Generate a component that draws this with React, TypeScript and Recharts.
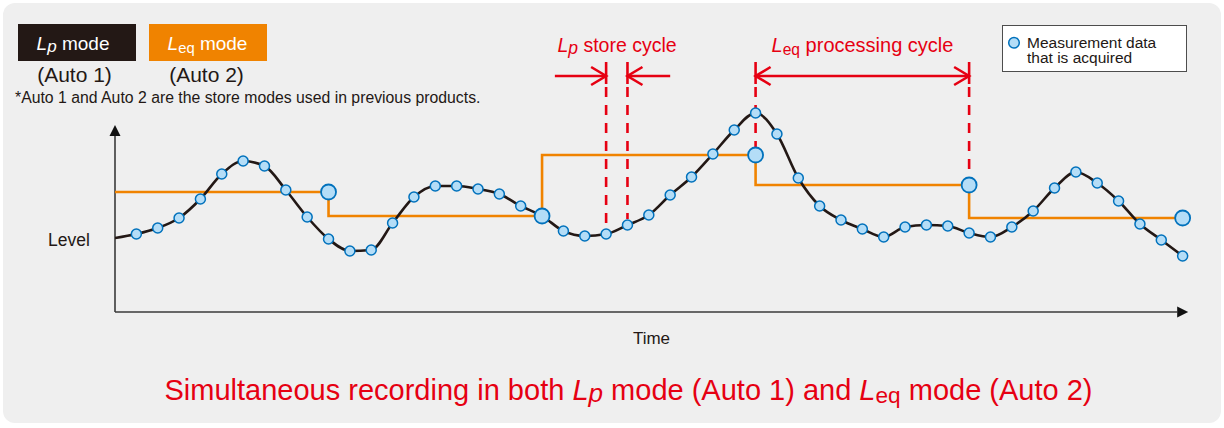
import React from 'react'
import { ComposedChart, Line, XAxis, YAxis, ReferenceLine } from 'recharts'

// Sound level, one value per measurement tick (time index 0..50)
const LEVEL = [
  74, 78, 84, 94, 113, 138, 151, 146, 122, 95,
  73, 61, 62, 89, 115, 126, 126, 123, 118, 106,
  96, 81, 76, 78, 87, 97, 117, 135, 158, 182,
  199, 178, 134, 106, 92, 83, 75, 85, 87, 86,
  79, 75, 85, 101, 124, 140, 129, 111, 88, 72,
  56,
]

// Leq step line (Auto 2): level held from each tick until the next one
const LEQ_AT = [0, 10, 20, 30, 40, 50]
const LEQ_LEVEL = [120, 96, 157, 127, 94, 94]

// values stored at the end of each Leq processing cycle
const STORED_AT = [10, 20, 30, 40, 50]
const STORED_LEVEL = [120, 96, 157, 127, 94]

const LP_CYCLE = [23, 24]
const LEQ_CYCLE = [30, 40]

const W = 1224
const H = 428
const INK = '#231815'
const ORANGE = '#f08300'
const RED = '#e60012'
const DOT_FILL = '#b4ddf7'
const DOT_STROKE = '#0071bc'
const FONT = '"Liberation Sans", Arial, Helvetica, sans-serif'

const X_MAX = 51
const Y_MAX = 292
const CUE_TOP = 250 // top of the red cycle markers
const CUE_ARROW = 236
const CUE_TICK = 228

const rows = LEVEL.map((v, t) => {
  const li = LEQ_AT.indexOf(t)
  const si = STORED_AT.indexOf(t)
  return {
    t,
    level: v,
    leq: li >= 0 ? LEQ_LEVEL[li] : null,
    stored: si >= 0 ? STORED_LEVEL[si] : null,
  }
})

const smallDot = (p: any) =>
  p.index === 0 || p.cy == null ? (
    <g key={`s${p.index}`} />
  ) : (
    <circle key={`s${p.index}`} cx={p.cx} cy={p.cy} r={5} fill={DOT_FILL} stroke={DOT_STROKE} strokeWidth={1.5} />
  )

const bigDot = (p: any) =>
  p.value == null || p.cy == null ? (
    <g key={`b${p.index}`} />
  ) : (
    <circle key={`b${p.index}`} cx={p.cx} cy={p.cy} r={7.5} fill={DOT_FILL} stroke={DOT_STROKE} strokeWidth={1.8} />
  )

// axis line with a filled triangle at its far end
const axisArrow = (p: any) => {
  const { x1, y1, x2, y2 } = p
  const len = Math.hypot(x2 - x1, y2 - y1) || 1
  const ux = (x2 - x1) / len
  const uy = (y2 - y1) / len
  const bx = x2 - ux * 11
  const by = y2 - uy * 11
  const nx = -uy * 5.5
  const ny = ux * 5.5
  return (
    <g>
      <line x1={x1} y1={y1} x2={bx} y2={by} stroke="#3a3a3a" strokeWidth={1.6} />
      <polygon points={`${x2},${y2} ${bx + nx},${by + ny} ${bx - nx},${by - ny}`} fill="#111" />
    </g>
  )
}

// red dimension line with open chevron heads
const dimArrow = (start: boolean, end: boolean) => (p: any) => {
  const { x1, y1, x2, y2 } = p
  const d = Math.sign(x2 - x1) || 1
  const head = (x: number, y: number, dir: number) =>
    `M${x - dir * 15},${y - 9} L${x},${y} L${x - dir * 15},${y + 9} `
  const path = (end ? head(x2, y2, d) : '') + (start ? head(x1, y1, -d) : '')
  return (
    <g>
      <line x1={x1} y1={y1} x2={x2} y2={y2} stroke={RED} strokeWidth={2.6} />
      <path d={path} fill="none" stroke={RED} strokeWidth={2.6} />
    </g>
  )
}

// where each red cue line stops: just above the dot it points at
const cueEnd = (t: number) => {
  const si = STORED_AT.indexOf(t)
  return (si >= 0 ? STORED_LEVEL[si] : LEVEL[t]) + 6
}

const Lp = () => (
  <>
    <tspan fontStyle="italic">L</tspan>
    <tspan fontStyle="italic" fontSize="0.9em" dy={2}>p</tspan>
    <tspan dy={-2}> </tspan>
  </>
)

const Leq = () => (
  <>
    <tspan fontStyle="italic">L</tspan>
    <tspan fontSize="0.78em" dy={3}>eq</tspan>
    <tspan dy={-3}> </tspan>
  </>
)

export default function App() {
  return (
    <div style={{ position: 'relative', width: W, height: H, background: '#fff', fontFamily: FONT }}>
      <style>{'body{margin:0}'}</style>
      <div
        style={{
          position: 'absolute',
          left: 3,
          top: 3,
          width: 1218,
          height: 420,
          borderRadius: 12,
          background: '#efefef',
        }}
      />
      <div style={{ position: 'absolute', left: 0, top: 0 }}>
        <ComposedChart width={W} height={H} data={rows} margin={{ top: 20, right: 20, bottom: 116, left: 115 }}>
          <XAxis type="number" dataKey="t" domain={[0, X_MAX]} hide allowDataOverflow />
          <YAxis type="number" domain={[0, Y_MAX]} hide allowDataOverflow />

          <ReferenceLine segment={[{ x: 0, y: 0 }, { x: 0, y: 187 }]} shape={axisArrow} ifOverflow="visible" />
          <ReferenceLine segment={[{ x: 0, y: 0 }, { x: 50.26, y: 0 }]} shape={axisArrow} ifOverflow="visible" />

          <Line
            type="stepAfter"
            dataKey="leq"
            stroke={ORANGE}
            strokeWidth={2.6}
            dot={false}
            activeDot={false}
            connectNulls
            isAnimationActive={false}
          />
          <Line
            type="monotone"
            dataKey="level"
            stroke={INK}
            strokeWidth={2.6}
            dot={smallDot}
            activeDot={false}
            isAnimationActive={false}
          />

          {[...LP_CYCLE, ...LEQ_CYCLE].map((t) => (
            <ReferenceLine
              key={`tick${t}`}
              segment={[{ x: t, y: CUE_TOP }, { x: t, y: CUE_TICK }]}
              stroke={RED}
              strokeWidth={2.6}
              ifOverflow="visible"
            />
          ))}
          {[...LP_CYCLE, ...LEQ_CYCLE].map((t) => (
            <ReferenceLine
              key={`cue${t}`}
              segment={[{ x: t, y: CUE_TICK - 3 }, { x: t, y: cueEnd(t) }]}
              stroke={RED}
              strokeWidth={2.6}
              strokeDasharray="10 8"
              ifOverflow="visible"
            />
          ))}

          <ReferenceLine
            segment={[{ x: LP_CYCLE[0] - 2.4, y: CUE_ARROW }, { x: LP_CYCLE[0], y: CUE_ARROW }]}
            shape={dimArrow(false, true)}
            ifOverflow="visible"
          />
          <ReferenceLine
            segment={[{ x: LP_CYCLE[1] + 2, y: CUE_ARROW }, { x: LP_CYCLE[1], y: CUE_ARROW }]}
            shape={dimArrow(false, true)}
            ifOverflow="visible"
          />
          <ReferenceLine
            segment={[{ x: LEQ_CYCLE[0], y: CUE_ARROW }, { x: LEQ_CYCLE[1], y: CUE_ARROW }]}
            shape={dimArrow(true, true)}
            ifOverflow="visible"
          />

          <Line
            dataKey="stored"
            stroke="none"
            dot={bigDot}
            activeDot={false}
            legendType="none"
            isAnimationActive={false}
          />
        </ComposedChart>
      </div>

      <svg width={W} height={H} style={{ position: 'absolute', left: 0, top: 0, pointerEvents: 'none' }} fontFamily={FONT}>
        <rect x={18} y={24} width={118} height={37} fill={INK} />
        <text x={73} y={49.5} fontSize={19} fill="#fff" textAnchor="middle">
          <Lp />mode
        </text>
        <rect x={149} y={24} width={118} height={37} fill={ORANGE} />
        <text x={207.5} y={49.5} fontSize={19} fill="#fff" textAnchor="middle">
          <Leq />mode
        </text>
        <text x={74.5} y={81.5} fontSize={21} fill={INK} textAnchor="middle">(Auto 1)</text>
        <text x={206.5} y={81.5} fontSize={21} fill={INK} textAnchor="middle">(Auto 2)</text>
        <text x={15} y={103} fontSize={15.8} fill={INK}>
          *Auto 1 and Auto 2 are the store modes used in previous products.
        </text>

        <text x={617} y={52} fontSize={19.5} fill={RED} textAnchor="middle">
          <Lp />store cycle
        </text>
        <text x={862.5} y={52} fontSize={20} fill={RED} textAnchor="middle">
          <Leq />processing cycle
        </text>

        <rect x={1002.5} y={25.5} width={184} height={46} fill="#fff" stroke="#4d4d4d" strokeWidth={1} />
        <circle cx={1014} cy={42.7} r={5.3} fill={DOT_FILL} stroke={DOT_STROKE} strokeWidth={1.5} />
        <text x={1027} y={47.7} fontSize={15.5} fill={INK}>Measurement data</text>
        <text x={1027} y={63.3} fontSize={15.5} fill={INK}>that is acquired</text>

        <text x={69} y={246} fontSize={17.5} fill={INK} textAnchor="middle">Level</text>
        <text x={651.5} y={344} fontSize={17} fill={INK} textAnchor="middle">Time</text>

        <text x={628.5} y={399.5} fontSize={29} fill={RED} textAnchor="middle">
          Simultaneous recording in both <Lp />mode (Auto 1) and <Leq />mode (Auto 2)
        </text>
      </svg>
    </div>
  )
}
